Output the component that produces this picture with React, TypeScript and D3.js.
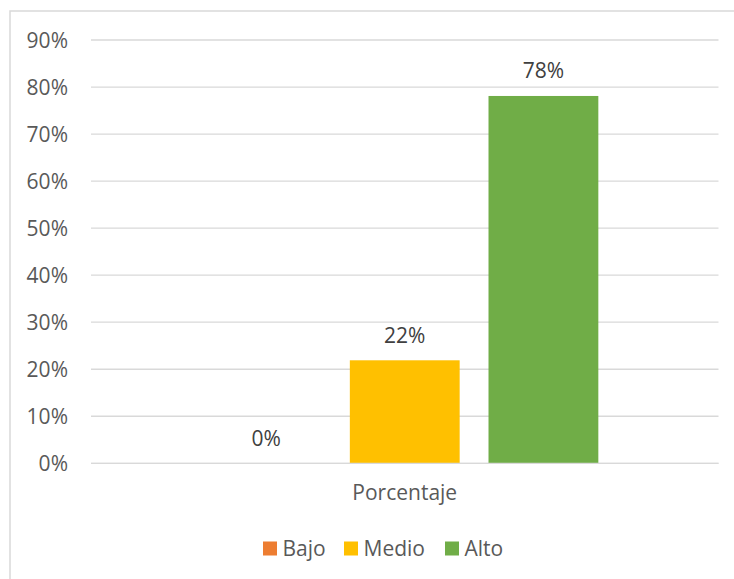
import React from "react";
import * as d3 from "d3";

const categories = ["Porcentaje"];
const seriesNames = ["Bajo", "Medio", "Alto"];
const seriesValues = [0, 21.9, 78.1];
const seriesColors = ["#ED7D31", "#FFC000", "#70AD47"];
const yTicks = [0, 10, 20, 30, 40, 50, 60, 70, 80, 90];

const W = 734;
const H = 579;
const plotLeft = 91;
const plotRight = 718.5;
const plotTop = 40;
const plotBottom = 463.3;
const FONT = "'Open Sans', 'Noto Sans', sans-serif";
const TEXT = "#595959";
const FS = 21;

export default function App() {
  const y = d3.scaleLinear().domain([0, 90]).range([plotBottom, plotTop]);
  const x0 = d3.scaleBand<string>().domain(categories).range([plotLeft, plotRight]).padding(0);
  const cat = categories[0];
  const gx = x0(cat) as number;
  const bw = x0.bandwidth();
  const inset = bw * 0.1915;
  const x1 = d3
    .scaleBand<string>()
    .domain(seriesNames)
    .range([gx + inset, gx + bw - inset])
    .paddingInner(0.208)
    .paddingOuter(0);

  const legendItems = [
    { name: "Bajo", x: 263 },
    { name: "Medio", x: 344 },
    { name: "Alto", x: 445 },
  ];

  return (
    <svg
      width={W}
      height={H}
      style={{ position: "absolute", left: 0, top: 0, background: "#fff" }}
      fontFamily={FONT}
    >
      <rect x={10} y={11} width={W + 20} height={H + 20} fill="#fff" stroke="#D9D9D9" strokeWidth={1.5} />
      {yTicks.map((t) => (
        <g key={t}>
          <line x1={plotLeft} x2={plotRight} y1={y(t)} y2={y(t)} stroke="#D9D9D9" strokeWidth={1.3} />
          <text x={68} y={y(t)} dy="0.36em" textAnchor="end" fontSize={FS} fill={TEXT}>
            {t}%
          </text>
        </g>
      ))}
      {seriesNames.map((s, i) => {
        const v = seriesValues[i];
        const bx = x1(s) as number;
        return (
          <g key={s}>
            <rect x={bx} y={y(v)} width={x1.bandwidth()} height={plotBottom - y(v)} fill={seriesColors[i]} />
            <text
              x={bx + x1.bandwidth() / 2}
              y={y(v) - 17.5}
              textAnchor="middle"
              fontSize={FS}
              fill="#404040"
            >
              {Math.round(v)}%
            </text>
          </g>
        );
      })}
      <line x1={plotLeft} x2={plotRight} y1={plotBottom} y2={plotBottom} stroke="#D9D9D9" strokeWidth={1.3} />
      <text x={gx + bw / 2} y={500} textAnchor="middle" fontSize={FS} fill={TEXT}>
        {cat}
      </text>
      {legendItems.map((d, i) => (
        <g key={d.name}>
          <rect x={d.x} y={541.5} width={14} height={14} fill={seriesColors[i]} />
          <text x={d.x + 19.5} y={555.5} fontSize={FS} fill={TEXT}>
            {d.name}
          </text>
        </g>
      ))}
    </svg>
  );
}
